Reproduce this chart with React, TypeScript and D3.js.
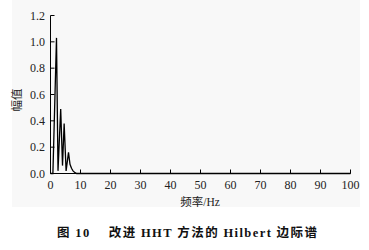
import React from "react";
import * as d3 from "d3";

const freq = [0, 0.8, 2.0, 2.5, 3.4, 4.0, 4.55, 5.2, 6.0, 6.5, 7.0, 7.5, 8.0, 8.7, 100];
const amp = [0, 0, 1.03, 0.02, 0.49, 0.06, 0.38, 0.02, 0.16, 0.07, 0.04, 0.02, 0.01, 0, 0];
const xTicks = [0, 10, 20, 30, 40, 50, 60, 70, 80, 90, 100];
const yTicks = [0, 0.2, 0.4, 0.6, 0.8, 1.0, 1.2];

const W = 369;
const H = 250;
const serif = "'Liberation Serif', 'DejaVu Serif', serif";
const cjk = "'Noto Sans CJK SC', sans-serif";

export default function App() {
  const x = d3.scaleLinear().domain([0, 100]).range([50.5, 350.5]);
  const y = d3.scaleLinear().domain([0, 1.2]).range([173.5, 15.5]);
  const line = d3
    .line<number>()
    .x((_, i) => x(freq[i]))
    .y((d) => y(d))
    .curve(d3.curveLinear);
  return (
    <svg
      width={W}
      height={H}
      style={{ position: "absolute", left: 0, top: 0, background: "#fff" }}
    >
      <rect x={12} y={0} width={348} height={207} fill="#f8f8f8" />
      <line x1={x(0)} x2={x(100)} y1={y(0)} y2={y(0)} stroke="#000" strokeWidth={1} />
      <line x1={x(0)} x2={x(0)} y1={y(0)} y2={y(1.2)} stroke="#000" strokeWidth={1} />
      {xTicks.map((t) => (
        <g key={"x" + t}>
          <line x1={x(t)} x2={x(t)} y1={y(0)} y2={y(0) - 4} stroke="#000" strokeWidth={1} />
          <text
            x={x(t)}
            y={189}
            textAnchor="middle"
            fontFamily={serif}
            fontSize={12}
            fill="#222"
          >
            {t}
          </text>
        </g>
      ))}
      {yTicks.map((t) => (
        <g key={"y" + t}>
          <line x1={x(0)} x2={x(0) + 4} y1={y(t)} y2={y(t)} stroke="#000" strokeWidth={1} />
          <text
            x={45}
            y={y(t) + 4}
            textAnchor="end"
            fontFamily={serif}
            fontSize={12}
            fill="#222"
          >
            {t.toFixed(1)}
          </text>
        </g>
      ))}
      <path d={line(amp) || ""} fill="none" stroke="#000" strokeWidth={1.3} />
      <text x={200} y={206} textAnchor="middle" fontSize={11.5} fill="#222">
        <tspan fontFamily={cjk}>频率</tspan>
        <tspan fontFamily={serif}>/Hz</tspan>
      </text>
      <text
        transform="translate(21,100) rotate(-90)"
        textAnchor="middle"
        fontFamily={cjk}
        fontSize={11.5}
        fill="#222"
      >
        幅值
      </text>
      <text
        x={57}
        y={237}
        fontSize={12.5}
        fontWeight="bold"
        fill="#111"
        textLength={260}
        lengthAdjust="spacing"
      >
        <tspan fontFamily={cjk}>图 </tspan>
        <tspan fontFamily={serif}>10</tspan>
        <tspan fontFamily={cjk}>{"\u3000 改进 "}</tspan>
        <tspan fontFamily={serif}>HHT</tspan>
        <tspan fontFamily={cjk}>{" 方法的 "}</tspan>
        <tspan fontFamily={serif}>Hilbert</tspan>
        <tspan fontFamily={cjk}>{" 边际谱"}</tspan>
      </text>
    </svg>
  );
}
